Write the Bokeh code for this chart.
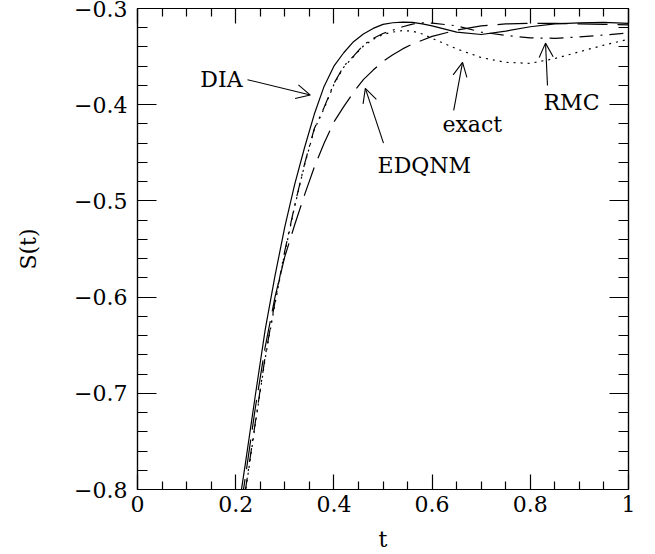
from bokeh.plotting import figure
from bokeh.models import (LinearAxis, FixedTicker, CustomJSTickFormatter, Arrow,
                          OpenHead, Range1d, ColumnDataSource)
from bokeh.core.properties import value
from bokeh.embed import file_html
from bokeh.resources import INLINE

# ---------------- data ----------------
t = [0.21, 0.22, 0.24, 0.26, 0.28, 0.30, 0.32, 0.34, 0.36, 0.38, 0.40, 0.42,
     0.44, 0.46, 0.48, 0.50, 0.52, 0.54, 0.56, 0.58, 0.60, 0.65, 0.70, 0.75,
     0.80, 0.85, 0.90, 0.95, 1.00]

dia = [-0.806, -0.772, -0.702, -0.634, -0.578, -0.527, -0.483, -0.445, -0.410,
       -0.381, -0.360, -0.346, -0.3345, -0.3265, -0.3207, -0.3165, -0.3148,
       -0.3142, -0.3145, -0.316, -0.318, -0.3245, -0.327, -0.3235, -0.319,
       -0.316, -0.315, -0.3145, -0.3155]

edqnm = [-0.82, -0.786, -0.715, -0.652, -0.600, -0.558, -0.525, -0.494, -0.465,
         -0.440, -0.418, -0.402, -0.387, -0.374, -0.364, -0.355, -0.348, -0.342,
         -0.337, -0.333, -0.329, -0.3225, -0.318, -0.316, -0.3155, -0.3155,
         -0.316, -0.3165, -0.317]

rmc = [-0.833, -0.800, -0.730, -0.662, -0.605, -0.552, -0.505, -0.462, -0.425,
       -0.403, -0.378, -0.360, -0.3495, -0.338, -0.331, -0.326, -0.3225, -0.319,
       -0.3162, -0.3148, -0.3152, -0.318, -0.3245, -0.328, -0.3305, -0.331,
       -0.3295, -0.3275, -0.3255]

exact = [-0.835, -0.802, -0.732, -0.664, -0.607, -0.554, -0.506, -0.463, -0.426,
         -0.404, -0.379, -0.361, -0.350, -0.339, -0.332, -0.327, -0.3245, -0.323,
         -0.3235, -0.3265, -0.331, -0.342, -0.351, -0.356, -0.357, -0.352,
         -0.345, -0.338, -0.332]

x_ticks = [0.0, 0.2, 0.4, 0.6, 0.8, 1.0]
x_tick_labels = ["0", "0.2", "0.4", "0.6", "0.8", "1"]
x_minor = [0.05, 0.10, 0.15, 0.25, 0.30, 0.35, 0.45, 0.50, 0.55, 0.65, 0.70,
           0.75, 0.85, 0.90, 0.95]
y_ticks = [-0.8, -0.7, -0.6, -0.5, -0.4, -0.3]
y_tick_labels = ["\u22120.8", "\u22120.7", "\u22120.6", "\u22120.5", "\u22120.4", "\u22120.3"]
y_minor = [-0.78, -0.76, -0.74, -0.72, -0.68, -0.66, -0.64, -0.62, -0.58, -0.56,
           -0.54, -0.52, -0.48, -0.46, -0.44, -0.42, -0.38, -0.36, -0.34, -0.32]

# annotation labels and arrows (data coordinates)
ann_text = ["DIA", "EDQNM", "exact", "RMC"]
ann_x = [0.128, 0.489, 0.621, 0.827]
ann_y = [-0.374, -0.463, -0.4205, -0.3977]
arr_x0 = [0.224, 0.501, 0.644, 0.835]
arr_y0 = [-0.374, -0.440, -0.406, -0.380]
arr_x1 = [0.352, 0.464, 0.662, 0.831]
arr_y1 = [-0.390, -0.383, -0.356, -0.336]

FONT = "DejaVu Serif"
FS = "22px"

p = figure(width=655, height=554, output_backend="svg", toolbar_location=None,
           x_range=Range1d(0, 1), y_range=Range1d(-0.8, -0.3),
           min_border_left=137, min_border_right=27, min_border_top=8,
           min_border_bottom=64, x_axis_label="t", y_axis_label="S(t)")
p.xgrid.visible = False
p.ygrid.visible = False
p.outline_line_color = "black"
p.outline_line_width = 1.2
p.background_fill_color = "white"
p.border_fill_color = "white"

def fmt(tv, tl):
    return CustomJSTickFormatter(args=dict(tv=tv, tl=tl), code="""
        const i = tv.findIndex(v => Math.abs(v - tick) < 1e-6);
        return i >= 0 ? tl[i] : '';
    """)

empty_fmt = CustomJSTickFormatter(code="return '';")

def style(ax, major, minor):
    ax.axis_line_color = "black"
    ax.axis_line_width = 1.2
    ax.major_tick_line_color = "black"
    ax.minor_tick_line_color = "black"
    ax.major_tick_line_width = 1.2
    ax.minor_tick_line_width = 1.2
    ax.major_tick_in = major
    ax.major_tick_out = 0
    ax.minor_tick_in = minor
    ax.minor_tick_out = 0
    ax.major_label_text_font = FONT
    ax.major_label_text_font_size = FS
    ax.major_label_text_color = "black"
    ax.axis_label_text_font = FONT
    ax.axis_label_text_font_size = FS
    ax.axis_label_text_font_style = "normal"
    ax.axis_label_text_color = "black"

xt = FixedTicker(ticks=x_ticks, minor_ticks=x_minor)
yt = FixedTicker(ticks=y_ticks, minor_ticks=y_minor)

xa = p.xaxis[0]
xa.ticker = xt
xa.formatter = fmt(x_ticks, x_tick_labels)
style(xa, 15, 8)
xa.major_label_standoff = 6
xa.axis_label_standoff = 12

ya = p.yaxis[0]
ya.ticker = yt
ya.formatter = fmt(y_ticks, y_tick_labels)
style(ya, 19, 10)
ya.major_label_standoff = 10
ya.axis_label_standoff = 30

top = LinearAxis(ticker=FixedTicker(ticks=x_ticks, minor_ticks=x_minor), formatter=empty_fmt)
style(top, 15, 8)
top.major_label_text_font_size = "0px"
top.major_label_standoff = 0
p.add_layout(top, "above")

right = LinearAxis(ticker=FixedTicker(ticks=y_ticks, minor_ticks=y_minor), formatter=empty_fmt)
style(right, 19, 10)
right.major_label_text_font_size = "0px"
right.major_label_standoff = 0
p.add_layout(right, "right")

LW = 1.2
p.line(t, dia, line_color="black", line_width=LW)
p.line(t, edqnm, line_color="black", line_width=LW, line_dash="30 10")
p.line(t, rmc, line_color="black", line_width=LW, line_dash="14 7 2 7")
p.line(t, exact, line_color="black", line_width=LW, line_dash="2 5")

src = ColumnDataSource(dict(x=ann_x, y=ann_y, text=ann_text))
p.text(x="x", y="y", text="text", source=src, text_font=value(FONT),
       text_font_size=FS, text_color="black", text_align="left",
       text_baseline="alphabetic")

for xs, ys, xe, ye in zip(arr_x0, arr_y0, arr_x1, arr_y1):
    p.add_layout(Arrow(x_start=xs, y_start=ys, x_end=xe, y_end=ye,
                       line_color="black", line_width=1.1,
                       end=OpenHead(size=14, line_width=1.1, line_color="black")))

open("out.html", "w").write(file_html(p, INLINE))
